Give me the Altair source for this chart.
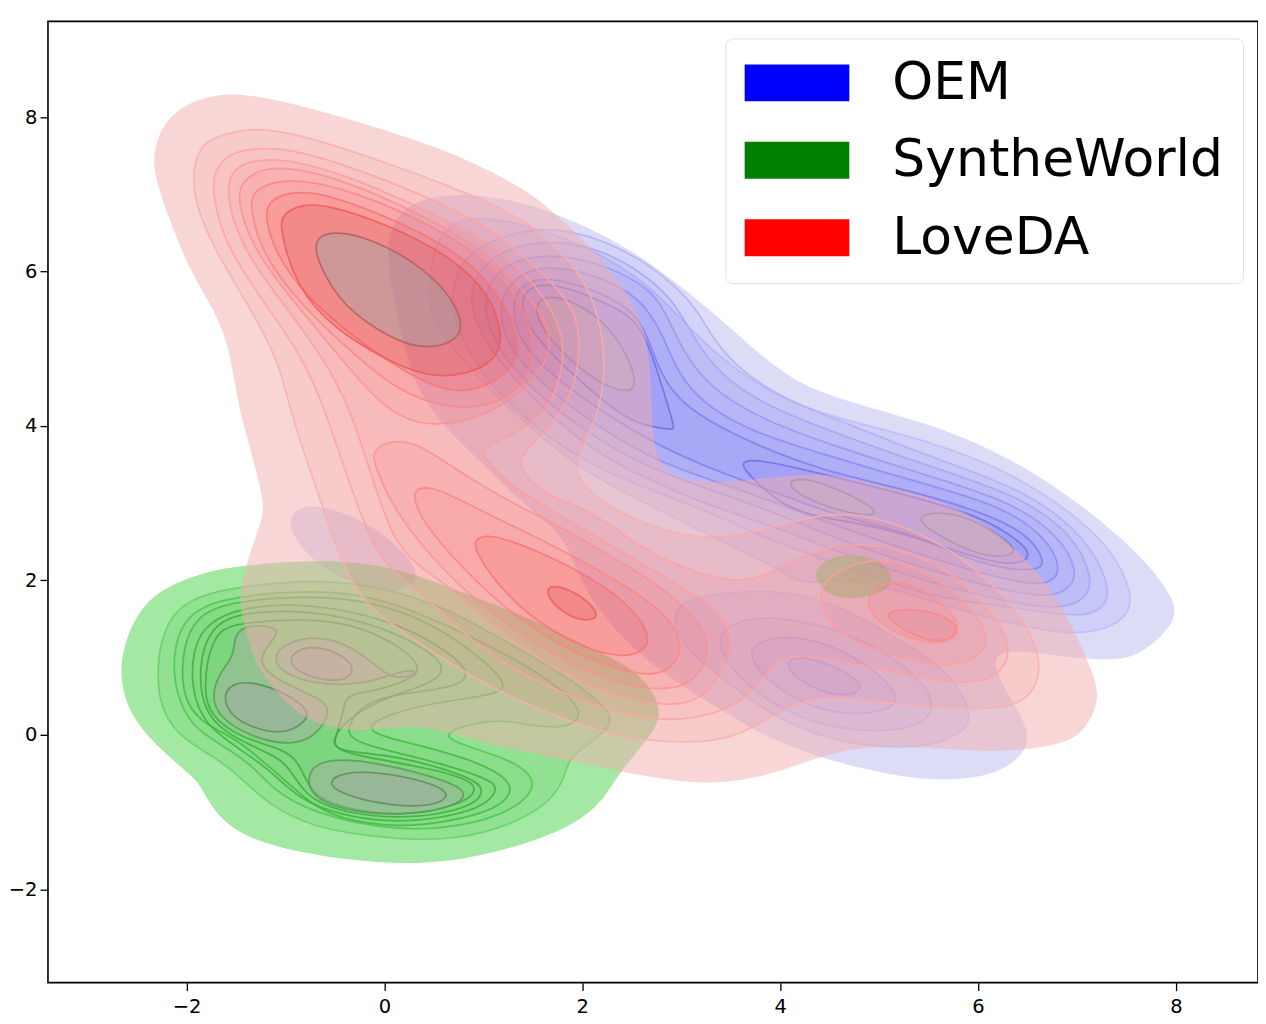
import altair as alt
import pandas as pd

# series names and tick labels
series_names = ['OEM', 'SyntheWorld', 'LoveDA']
x_ticks = [-2, 0, 2, 4, 6, 8]
y_ticks = [-2, 0, 2, 4, 6, 8]

# contour outlines, (x, y) in data units
b0 = [(0,6.31),(.12,6.75),(.42,6.99),(1.03,7.01),(1.70,6.79),(2.50,6.31),(3.31,5.50),(3.99,4.68),(4.52,4.36),(5.53,4.04),(6.54,3.47),(7.55,2.48),(7.95,1.84),(8.04,1.49),(7.66,1.04),(7.39,.96),(6.89,1.00),(6.11,1.16),(6.21,.71),(6.41,.32),(6.53,-.03),(6.44,-.28),(6.21,-.49),(5.88,-.58),(5.37,-.58),(4.87,-.45),(4.36,-.28),(3.86,-.03),(3.35,.36),(2.65,.93),(2.14,1.62),(1.94,2.13),(1.80,2.61),(1.43,2.95),(.96,3.56),(.53,4.08),(.28,4.59),(.12,5.46)]
b0_island = [(-.98,2.81),(-.81,3.00),(-.45,2.91),(-.05,2.65),(.20,2.36),(.35,2.10),(.28,1.88),(-.08,1.84),(-.63,2.13),(-.91,2.52)]
b1 = [(.42,5.76),(.53,6.50),(.79,6.69),(1.13,6.69),(1.64,6.53),(2.17,6.24),(2.65,5.85),(2.98,5.41),(3.31,4.98),(3.66,4.63),(4.19,4.24),(4.87,4.01),(5.53,3.79),(6.21,3.47),(6.89,2.95),(7.39,2.36),(7.55,1.84),(7.54,1.62),(7.39,1.40),(6.99,1.29),(6.54,1.38),(5.84,1.59),(5.20,1.88),(4.60,2.03),(4.18,1.94),(4.06,2.11),(3.66,2.35),(2.91,2.82),(2.58,3.04),(1.97,3.43),(1.16,4.33),(.51,5.24)]
b1_low = [(2.90,1.53),(3.01,1.72),(3.35,1.84),(4.06,1.88),(4.60,1.68),(5.20,1.23),(5.74,.80),(5.96,.23),(5.84,.03),(5.54,-.16),(4.87,-.17),(4.19,.06),(3.69,.45),(3.18,.97),(3.03,1.14)]
b2 = [(.63,5.76),(.86,6.34),(1.64,6.64),(2.37,6.34),(2.83,5.95),(3.15,5.54),(3.31,5.15),(3.59,4.72),(4.06,4.33),(4.67,4.04),(5.40,3.65),(6.51,3.17),(7.12,2.52),(7.34,1.91),(7.29,1.66),(7.09,1.53),(6.69,1.58),(6.01,1.71),(5.50,1.79),(4.60,2.20),(3.89,2.52),(3.25,2.91),(2.68,3.17),(1.97,3.56),(1.36,4.14),(.81,4.92)]
b2_low = [(3.31,1.27),(3.62,1.53),(4.19,1.51),(4.87,1.23),(5.37,.80),(5.61,.36),(5.37,.06),(4.70,.03),(4.02,.28),(3.52,.80)]
b3 = [(.81,5.63),(1.01,6.21),(1.64,6.44),(2.27,6.27),(2.78,5.82),(2.98,5.50),(3.18,5.02),(3.45,4.59),(3.96,4.20),(4.57,3.91),(5.40,3.52),(6.41,3.11),(6.97,2.59),(7.17,2.01),(7.09,1.75),(6.82,1.62),(6.34,1.71),(5.50,1.97),(4.60,2.36),(3.89,2.72),(3.21,3.00),(2.68,3.30),(1.97,3.75),(1.06,4.92)]
b3_low = [(3.67,1.10),(3.86,1.27),(4.36,1.26),(4.87,.93),(5.25,.49),(5.07,.28),(4.52,.26),(4.09,.49),(3.76,.84)]
b4 = [(.96,5.63),(1.16,6.08),(1.64,6.25),(2.17,6.12),(2.68,5.80),(2.85,5.46),(3.01,4.98),(3.28,4.50),(3.82,4.08),(4.46,3.78),(5.40,3.39),(6.31,3.04),(6.82,2.59),(7.02,2.10),(6.92,1.88),(6.69,1.77),(6.18,1.90),(5.50,2.13),(4.60,2.52),(3.89,2.91),(3.21,3.21),(2.68,3.45),(1.97,3.95),(1.16,4.85)]
b4_low = [(4.04,.88),(4.12,1.02),(4.42,.97),(4.80,.71),(4.83,.56),(4.60,.49),(4.29,.62)]
b5 = [(1.13,5.54),(1.31,5.95),(1.64,6.08),(2.07,5.99),(2.58,5.69),(2.81,5.20),(2.95,4.72),(3.21,4.29),(3.72,3.92),(4.39,3.65),(5.40,3.27),(6.21,2.98),(6.67,2.59),(6.85,2.16),(6.75,1.97),(6.52,1.94),(6.01,2.10),(5.50,2.30),(4.60,2.69),(3.89,3.04),(3.21,3.34),(2.68,3.58),(1.97,4.14),(1.26,4.92)]
b6 = [(1.28,5.59),(1.39,5.85),(1.64,5.93),(2.04,5.80),(2.34,5.63),(2.58,5.40),(2.71,4.98),(2.81,4.63),(3.01,4.29),(3.38,3.99),(3.72,3.78),(4.39,3.43),(5.40,3.14),(6.11,2.85),(6.51,2.59),(6.68,2.26),(6.62,2.11),(6.14,2.17),(5.68,2.39),(5.33,2.61),(4.60,2.82),(3.89,3.17),(3.21,3.49),(2.71,3.78),(1.97,4.37),(1.36,5.02)]
b7_top = [(1.39,5.72),(1.57,5.85),(1.84,5.80),(2.24,5.59),(2.58,5.37),(2.75,4.76),(2.91,4.08),(2.93,3.97),(2.91,3.95),(2.70,3.99),(2.44,4.08),(1.97,4.59),(1.57,5.07),(1.39,5.46)]
b7_ridge = [(3.57,3.53),(3.76,3.58),(4.39,3.39),(5.37,3.08),(6.04,2.82),(6.41,2.52),(6.55,2.33),(6.41,2.20),(6.11,2.24),(5.54,2.48),(5.03,2.69),(4.36,2.82),(4.02,2.97),(3.72,3.32)]
b8_top = [(1.57,5.65),(1.74,5.69),(2.04,5.53),(2.30,5.24),(2.50,4.81),(2.55,4.50),(2.44,4.43),(2.17,4.55),(1.84,4.89),(1.60,5.24),(1.52,5.50)]
b8_mid = [(4.05,3.27),(4.22,3.34),(4.57,3.20),(5.00,2.91),(4.93,2.82),(4.57,2.91),(4.22,3.08)]
b8_right = [(5.35,2.78),(5.50,2.89),(5.84,2.85),(6.14,2.65),(6.38,2.42),(6.36,2.33),(6.11,2.29),(5.74,2.48)]

g0 = [(-2.67,.71),(-2.65,1.10),(-2.50,1.58),(-2.27,1.88),(-1.84,2.11),(-1.39,2.20),(-.76,2.26),(-.25,2.24),(.25,2.11),(.63,1.92),(1.46,1.53),(2.04,1.14),(2.58,.84),(2.81,.36),(2.75,.06),(2.37,-.49),(2.24,-.80),(2.00,-1.10),(1.57,-1.36),(.96,-1.58),(.35,-1.69),(-.42,-1.62),(-1.09,-1.46),(-1.49,-1.27),(-1.74,-.97),(-1.87,-.62),(-2.00,-.48),(-2.34,-.10),(-2.58,.28)]
g0_island = [(4.32,2.04),(4.42,2.26),(4.70,2.35),(5.00,2.29),(5.17,2.04),(5.07,1.85),(4.77,1.75),(4.50,1.79)]
g1 = [(-2.30,.67),(-2.27,1.23),(-2.10,1.66),(-1.77,1.84),(-1.43,1.92),(-.76,2.01),(-.08,1.94),(.59,1.66),(.96,1.40),(1.80,.80),(2.32,.30),(2.27,.06),(1.97,-.19),(1.85,-.36),(1.82,-.58),(1.64,-.93),(1.16,-1.23),(.59,-1.38),(-.08,-1.33),(-.76,-1.19),(-1.19,-.88),(-1.43,-.58),(-1.67,-.32),(-2.04,-.06),(-2.24,.28)]
g2 = [(-2.14,.67),(-2.12,1.19),(-2.00,1.53),(-1.70,1.77),(-.76,1.88),(-.05,1.81),(.96,1.23),(1.64,.75),(2.03,.32),(1.90,.10),(1.57,.09),(1.13,.23),(.58,.04),(.69,-.10),(1.29,-.32),(1.55,-.58),(1.43,-.88),(.96,-1.16),(.15,-1.27),(-.76,-1.01),(-1.16,-.67),(-1.29,-.45),(-1.60,-.16),(-1.97,.10)]
g3 = [(-2.05,.54),(-2.04,1.14),(-1.90,1.53),(-1.60,1.72),(-.76,1.81),(-.05,1.72),(.63,1.36),(1.28,.67),(1.16,.52),(.45,.41),(-.05,.23),(-.22,.03),(.35,-.13),(.96,-.35),(1.36,-.65),(1.16,-.97),(.59,-1.14),(.15,-1.20),(-.45,-1.10),(-.76,-.88),(-1.09,-.49),(-1.29,-.28),(-1.49,-.06),(-1.90,.19)]
g4 = [(-1.95,.58),(-1.94,1.10),(-1.80,1.45),(-1.43,1.66),(-.76,1.71),(.05,1.49),(.56,1.16),(.90,.80),(.73,.61),(.18,.54),(-.22,.41),(-.38,.10),(-.35,-.10),(.45,-.32),(1.03,-.56),(1.18,-.69),(.96,-1.00),(.15,-1.16),(-.45,-1.04),(-.86,-.84),(-1.16,-.45),(-1.46,-.19),(-1.82,.13)]
g5 = [(-1.87,.71),(-1.84,1.10),(-1.72,1.42),(-1.46,1.59),(-.76,1.62),(-.05,1.42),(.45,1.10),(.64,.84),(.45,.65),(.02,.49),(-.35,.23),(-.54,-.06),(-.48,-.22),(.12,-.26),(.86,-.54),(1.04,-.71),(.86,-.97),(.15,-1.10),(-.45,-1.00),(-.81,-.80),(-.98,-.35),(-1.26,-.19),(-1.62,.03),(-1.82,.32)]
g6 = [(-1.79,.97),(-1.72,1.23),(-1.64,1.36),(-1.49,1.45),(-.76,1.51),(-.28,1.42),(.15,1.16),(.40,.85),(.25,.71),(-.05,.58),(-.38,.52),(-.40,.39),(-.48,0),(-.53,-.17),(-.25,-.28),(.45,-.43),(.86,-.58),(.94,-.71),(.81,-.90),(.15,-1.07),(-.45,-.94),(-.74,-.78),(-.86,-.35),(-1.01,-.19),(-1.46,-.04),(-1.77,.26),(-1.82,.58)]
g7_left = [(-1.52,1.27),(-1.43,1.40),(-1.23,1.42),(-1.04,1.36),(-1.16,1.19),(-1.29,.93),(-1.09,.71),(-.69,.49),(-.54,.36),(-.63,.06),(-.89,-.16),(-1.36,-.03),(-1.67,.23),(-1.75,.49),(-1.67,.80),(-1.52,1.01)]
g7_upper = [(-1.14,1.00),(-.99,1.20),(-.66,1.29),(-.32,1.14),(-.07,.88),(.07,.74),(.25,.74),(.35,.84),(.15,.82),(-.05,.72),(-.30,.65),(-.66,.65),(-1.01,.78)]
g7_low = [(-.79,-.54),(-.66,-.32),(-.22,-.32),(.45,-.52),(.86,-.71),(.76,-.93),(.12,-1.06),(-.45,-.97),(-.73,-.80)]
g8_left = [(-1.64,.49),(-1.54,.67),(-1.33,.69),(-.99,.54),(-.76,.32),(-.79,.16),(-1.03,0),(-1.33,.09),(-1.54,.23)]
g8_upper = [(-.99,.96),(-.86,1.13),(-.63,1.14),(-.38,1.00),(-.30,.84),(-.38,.71),(-.59,.70),(-.83,.78)]
g8_low = [(-.58,-.62),(-.42,-.48),(-.05,-.48),(.45,-.61),(.66,-.75),(.59,-.88),(.32,-.94),(-.12,-.88),(-.45,-.75)]

r0 = [(-1.49,8.31),(-1.06,8.22),(-.48,8.02),(.18,7.76),(.69,7.54),(1.36,7.12),(1.67,6.82),(2.10,6.31),(2.37,5.89),(2.61,5.37),(2.70,4.76),(2.70,3.82),(2.81,3.39),(3.15,3.27),(3.56,3.27),(4.02,3.36),(4.53,3.39),(5.03,3.21),(5.54,3.08),(6.04,2.78),(6.55,2.23),(6.89,1.58),(7.12,.93),(7.25,.49),(7.09,.06),(6.89,-.10),(6.55,-.19),(6.04,-.22),(5.54,-.17),(4.87,-.13),(4.36,-.30),(3.86,-.54),(3.38,-.63),(2.98,-.61),(2.40,-.48),(1.80,-.32),(.96,-.10),(.35,.16),(-.25,.03),(-.59,.10),(-.89,.28),(-1.19,.67),(-1.36,1.10),(-1.46,1.66),(-1.46,1.88),(-1.39,2.20),(-1.33,2.48),(-1.21,2.85),(-1.24,3.17),(-1.41,3.95),(-1.49,4.37),(-1.57,5.02),(-1.70,5.46),(-1.97,6.02),(-2.17,6.66),(-2.32,7.22),(-2.34,7.53),(-2.24,7.92),(-2.00,8.18),(-1.74,8.28)]
r1 = [(-1.39,7.85),(-1.09,7.83),(-.66,7.70),(.02,7.41),(.69,7.09),(1.29,6.77),(1.70,6.38),(2.04,5.89),(2.20,5.28),(2.24,4.59),(2.10,3.91),(1.87,3.47),(2.10,3.08),(2.58,2.74),(3.25,2.50),(3.82,2.65),(4.26,2.81),(4.60,2.87),(4.97,2.82),(5.53,2.56),(6.04,2.10),(6.48,1.49),(6.67,.88),(6.52,.45),(6.21,.32),(5.54,.35),(4.87,.45),(4.36,.49),(4.02,.32),(3.69,.06),(3.35,-.09),(2.91,-.10),(2.30,-.03),(1.29,.45),(.66,.93),(.25,1.27),(-.18,1.66),(-.38,2.10),(-.51,2.52),(-.61,2.91),(-.86,3.82),(-1.00,4.46),(-1.09,4.89),(-1.36,5.54),(-1.70,6.24),(-1.92,6.88),(-1.94,7.35),(-1.84,7.66),(-1.67,7.76)]
r2 = [(-1.26,7.61),(-.89,7.57),(-.32,7.35),(.35,7.01),(.96,6.66),(1.46,6.15),(1.87,5.63),(1.97,5.28),(1.97,4.76),(1.84,4.24),(1.57,3.86),(1.36,3.60),(1.39,3.39),(1.64,3.08),(2.04,2.95),(2.58,2.43),(3.01,2.16),(3.52,1.97),(3.82,2.04),(4.09,2.24),(4.60,2.50),(5.20,2.43),(5.71,2.13),(6.14,1.62),(6.36,1.10),(6.21,.75),(5.88,.65),(5.37,.75),(4.87,.88),(4.19,1.06),(3.96,.97),(3.69,.49),(3.38,.28),(2.91,.16),(2.30,.28),(1.64,.62),(.96,1.10),(.42,1.79),(.08,2.10),(-.15,2.52),(-.40,3.43),(-.66,4.43),(-.89,5.02),(-1.33,5.80),(-1.64,6.44),(-1.74,7.05),(-1.72,7.31),(-1.57,7.54)]
r3 = [(-1.36,7.44),(-.99,7.47),(-.32,7.22),(.35,6.83),(.96,6.47),(1.46,5.95),(1.77,5.37),(1.84,4.85),(1.64,4.08),(1.09,3.78),(.96,3.65),(1.13,3.43),(1.29,3.21),(1.97,2.69),(2.58,2.24),(2.91,1.98),(3.18,1.79),(3.38,1.58),(3.56,1.23),(3.38,.71),(3.18,.45),(2.91,.36),(2.30,.49),(1.64,.93),(.96,1.55),(.66,1.92),(.35,2.17),(.08,2.52),(-.15,3.43),(-.38,4.37),(-.76,5.15),(-1.16,5.80),(-1.49,6.44),(-1.60,7.05),(-1.54,7.31)]
r3_right = [(4.37,1.75),(4.46,2.04),(4.87,2.29),(5.27,2.23),(5.71,1.92),(6.04,1.49),(6.11,1.19),(5.98,.97),(5.71,.89),(5.37,.94),(4.87,1.14),(4.53,1.36)]
r4_top = [(-1.26,7.34),(-.89,7.35),(-.32,7.14),(.35,6.75),(.96,6.34),(1.36,5.82),(1.65,5.37),(1.70,4.94),(1.43,4.46),(.96,4.08),(.37,3.97),(-.05,4.27),(-.53,5.02),(-.99,5.72),(-1.33,6.31),(-1.48,6.88),(-1.46,7.14)]
r4_mid = [(0,3.79),(.28,3.82),(.63,3.52),(1.16,3.08),(1.80,2.69),(2.58,2.10),(3.01,1.71),(3.25,1.32),(3.29,1.10),(3.15,.67),(2.81,.56),(2.30,.67),(1.64,1.06),(.96,1.68),(.45,2.33),(.10,2.91),(-.10,3.49),(-.12,3.66)]
r4_right = [(4.87,1.71),(4.93,1.90),(5.17,2.01),(5.47,1.88),(5.74,1.58),(5.83,1.36),(5.71,1.19),(5.50,1.19),(5.20,1.29),(4.97,1.49)]
r5_top = [(-1.09,7.18),(-.73,7.18),(-.15,6.96),(.53,6.57),(1.06,6.12),(1.41,5.56),(1.55,4.98),(1.39,4.50),(1.06,4.24),(.63,4.23),(.15,4.44),(-.32,4.94),(-.79,5.50),(-1.23,6.19),(-1.36,6.83),(-1.33,7.05)]
r5_mid = [(.35,3.21),(.53,3.20),(.96,2.91),(1.64,2.50),(2.30,2.04),(2.81,1.62),(3.04,1.19),(2.91,.84),(2.65,.74),(2.04,.97),(1.46,1.40),(.96,1.92),(.38,2.74),(.28,3.11)]
r5_right = [(5.06,1.55),(5.17,1.63),(5.47,1.62),(5.74,1.49),(5.81,1.32),(5.64,1.19),(5.37,1.27),(5.17,1.42)]
r6_top = [(-.96,7.03),(-.66,7.03),(-.08,6.77),(.53,6.41),(.96,6.02),(1.26,5.50),(1.38,5.02),(1.29,4.72),(.96,4.46),(.63,4.44),(.25,4.66),(-.32,5.15),(-.83,5.72),(-1.13,6.31),(-1.21,6.75),(-1.16,6.92)]
r6_mid = [(.96,2.56),(1.09,2.59),(1.46,2.43),(1.97,2.13),(2.47,1.71),(2.71,1.27),(2.61,1.06),(2.37,1.00),(1.97,1.14),(1.46,1.53),(1.13,1.97),(.93,2.35),(.91,2.50)]
r7_top = [(-.83,6.87),(-.59,6.87),(.02,6.62),(.69,6.19),(1.09,5.67),(1.20,5.15),(1.13,4.85),(.83,4.66),(.45,4.63),(.02,4.85),(-.53,5.28),(-.89,5.80),(-1.06,6.56),(-1.03,6.75)]
r7_mid = [(1.70,1.94),(1.87,1.88),(2.04,1.75),(2.15,1.59),(2.14,1.49),(1.97,1.48),(1.80,1.59),(1.67,1.75),(1.64,1.88)]
r8_top = [(-.66,6.47),(-.48,6.52),(-.15,6.43),(.28,6.15),(.63,5.76),(.79,5.37),(.76,5.15),(.56,5.02),(.28,5.02),(-.08,5.24),(-.48,5.63),(-.73,6.28)]

oem_levels = [[b0, b0_island], [b1, b1_low], [b2, b2_low], [b3, b3_low], [b4, b4_low], [b5], [b6], [b7_top, b7_ridge], [b8_top, b8_mid, b8_right]]
synth_levels = [[g0, g0_island], [g1], [g2], [g3], [g4], [g5], [g6], [g7_left, g7_upper, g7_low], [g8_left, g8_upper, g8_low]]
love_levels = [[r0], [r1], [r2], [r3, r3_right], [r4_top, r4_mid, r4_right], [r5_top, r5_mid, r5_right], [r6_top, r6_mid], [r7_top, r7_mid], [r8_top]]

# fill, fill opacity and line colour for each level
styles = {
    'OEM': (['#b9b9ef'] + ['#0000ff'] * 7 + ['#a5b5aa'],
            [.5, .055, .04, .04, .035, .04, .035, .04, .3],
            ['#ffffff', '#bcbcf8', '#b0b0f6', '#a4a4f4', '#9898f2', '#8c8cee', '#7e7eea', '#6f6fdf', '#7078b4']),
    'SyntheWorld': (['#47d347', '#00a000', '#00a000', '#00a000', '#00a000', '#00a000', '#00a000', '#b8a0b8', '#a898a8'],
                    [.5, .10, .05, .03, .02, .02, .01, .35, .3],
                    ['#ffffff', '#66d066', '#4ec54e', '#3ebc3e', '#3ab43a', '#3aae3a', '#45a645', '#5b9a5b', '#5f8a5f']),
    'LoveDA': (['#f1adad'] + ['#ff0000'] * 6 + ['#c80000', '#7eb7b7'],
               [.5, .047, .04, .04, .043, .044, .08, .114, .3],
               ['#ffffff', '#f9aeae', '#fba3a3', '#fd9d9d', '#fc9090', '#fb8585', '#f87474', '#ef5a5a', '#b06060']),
}

rows = []
ring_id = 0
for name, levels in zip(series_names, [oem_levels, synth_levels, love_levels]):
    fills, opacities, strokes = styles[name]
    for level, rings in enumerate(levels):
        for ring in rings:
            ring_id += 1
            for i, (x, y) in enumerate(ring):
                rows.append({'x': x, 'y': y, 'i': i, 'ring': ring_id, 'fill': fills[level],
                             'fo': opacities[level], 'stroke': strokes[level],
                             'so': 0 if level == 0 else .85})
df = pd.DataFrame(rows)

x_scale = alt.Scale(domain=[-3.40, 8.83], nice=False, zero=False)
y_scale = alt.Scale(domain=[-3.21, 9.24], nice=False, zero=False)

contours = alt.Chart(df).mark_line(interpolate='basis-closed', strokeWidth=1.7).encode(
    x=alt.X('x:Q', scale=x_scale, axis=alt.Axis(values=x_ticks, format='d', title=None, grid=False, domain=False, tickColor='black',
                                                tickSize=8, tickWidth=1.3, labelFontSize=19.5, labelColor='black',
                                                labelFont='DejaVu Sans', labelPadding=7)),
    y=alt.Y('y:Q', scale=y_scale, axis=alt.Axis(values=y_ticks, format='d', title=None, grid=False, domain=False, tickColor='black',
                                                tickSize=8, tickWidth=1.3, labelFontSize=19.5, labelColor='black',
                                                labelFont='DejaVu Sans', labelPadding=3)),
    order='i:Q',
    detail='ring:N',
    fill=alt.Fill('fill:N', scale=None),
    fillOpacity=alt.FillOpacity('fo:Q', scale=None),
    stroke=alt.Stroke('stroke:N', scale=None),
    strokeOpacity=alt.StrokeOpacity('so:Q', scale=None),
)

# invisible points, only here to carry the legend
key_df = pd.DataFrame({'name': series_names, 'x': [b0[0][0], g0[0][0], r0[0][0]], 'y': [b0[0][1], g0[0][1], r0[0][1]]})
key = alt.Chart(key_df).mark_point(filled=True, size=0).encode(
    x=alt.X('x:Q', scale=x_scale),
    y=alt.Y('y:Q', scale=y_scale),
    color=alt.Color('name:N', scale=alt.Scale(domain=series_names, range=['#0000ff', '#008000', '#ff0000']),
                    sort=series_names,
                    legend=alt.Legend(orient='none', legendX=678, legendY=17, title=None,
                                      symbolType='M-1,-0.352H1V0.352H-1Z', symbolSize=11025, symbolOpacity=1,
                                      symbolStrokeWidth=0, labelFontSize=52, labelFont='DejaVu Sans', labelColor='black',
                                      labelOffset=43, labelLimit=600, clipHeight=51, rowPadding=24.5, padding=19,
                                      fillColor='white', strokeColor='#e0e0e0', cornerRadius=7)),
)

chart = alt.layer(contours, key).properties(
    width=1211,
    height=962,
    padding={'left': 40, 'top': 13, 'right': 0, 'bottom': 38},
    autosize='none',
).configure_view(stroke='black', strokeWidth=1.6)

chart.save("out.html", embed_options={"renderer": "svg", "actions": False})
